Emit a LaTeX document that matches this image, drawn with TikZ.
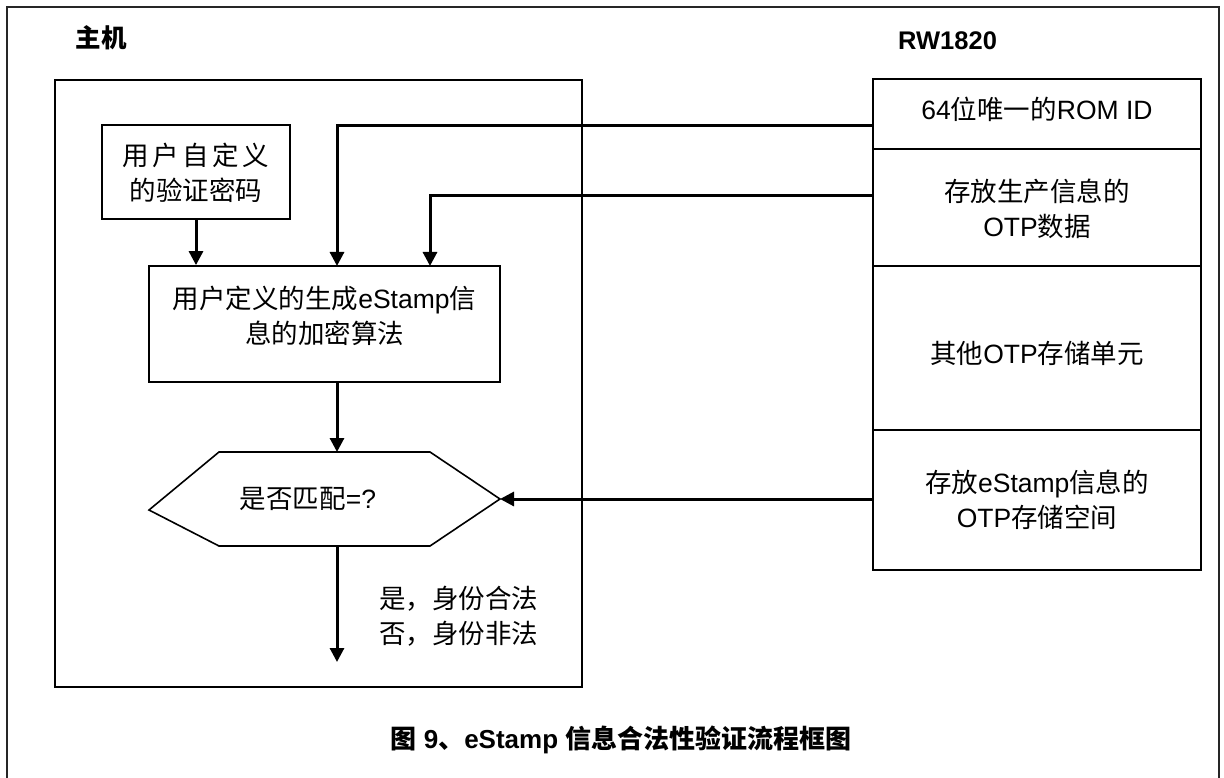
\documentclass[tikz,border=0pt]{standalone}
\usepackage{fontspec}
\setmainfont{Liberation Sans}
\newfontfamily\cjk{Noto Sans CJK SC}
\usetikzlibrary{arrows.meta}
\newcommand\zh[1]{{\cjk #1}}
\begin{document}
\begin{tikzpicture}[x=1pt,y=-1pt,
  box/.style={draw, line width=1.8pt, inner sep=0pt},
  lbl/.style={font=\fontsize{26.5}{35}\selectfont, align=center, inner sep=0pt},
  head/.style={font=\bfseries\fontsize{25.5}{30}\selectfont, inner sep=0pt},
  conn/.style={line width=3pt, -{Triangle[length=14pt,width=14pt]}},
  hexline/.style={line width=1.6pt, line join=miter}]
\useasboundingbox (0,0) rectangle (1224,778);
% outer frame (bottom edge outside the picture)
\draw[line width=1.6pt, black!85] (7,800) -- (7,7) -- (1219,7) -- (1219,800);
% headers
\node[head] (hostlbl) at (101,38) {\zh{主机}};
\node[head, anchor=west] (rwlbl) at (898,41) {RW1820};
% host box
\draw[box] (55,80) rectangle (582,687);
\node[box, minimum width=188pt, minimum height=94pt] (pwd) at (196,172) {};
\node[lbl] (pwdtxt) at (196,172.5) {\zh{用\hspace{3.5pt}户\hspace{3.5pt}自\hspace{3.5pt}定\hspace{3.5pt}义}\\\zh{的验证密码}};
\node[box, minimum width=351pt, minimum height=116pt] (algo) at (324.5,324) {};
\node[lbl] (algotxt) at (324.5,316) {\zh{用户定义的生成}eStamp\zh{信}\\\zh{息的加密算法}};
% hexagon decision
\coordinate (hexR) at (500,499);
\coordinate (hexT) at (337,452);
\coordinate (hexB) at (337,546);
\draw[hexline] (219,452) -- (430,452) -- (hexR) -- (430,546) -- (219,546) -- (149,510) -- cycle;
\node[lbl] (q) at (308,499) {\zh{是否匹配}=?};
\node[lbl, anchor=west, align=left] (res) at (379,616) {\zh{是，身份合法}\\\zh{否，身份非法}};
% RW1820 column
\node[box, minimum width=328pt, minimum height=70pt] (rom) at (1037,114) {};
\node[lbl] (romtxt) at (1037,109) {64\zh{位唯一的}ROM ID};
\node[box, minimum width=328pt, minimum height=117pt] (otp) at (1037,207.5) {};
\node[lbl] (otptxt) at (1037,208.5) {\zh{存放生产信息的}\\OTP\zh{数据}};
\node[box, minimum width=328pt, minimum height=164pt] (other) at (1037,348) {};
\node[lbl] (othertxt) at (1037,353) {\zh{其他}OTP\zh{存储单元}};
\node[box, minimum width=328pt, minimum height=140pt] (est) at (1037,500) {};
\node[lbl] (esttxt) at (1037,499.5) {\zh{存放}eStamp\zh{信息的}\\OTP\zh{存储空间}};
% connectors
\coordinate (romout) at (873,126);
\coordinate (algoin1) at (337,266);
\coordinate (otpout) at (873,196);
\coordinate (algoin2) at (430,266);
\coordinate (algoout) at (337,382);
\coordinate (estout) at (873,499);
\coordinate (resend) at (337,662);
\draw[conn] (pwd.south) -- (pwd.south |- algo.north);
\draw[conn] (romout) -| (algoin1);
\draw[conn] (otpout) -| (algoin2);
\draw[conn] (algoout) -- (hexT);
\draw[conn] (estout) -- (hexR);
\draw[conn] (hexB) -- (resend);
% caption
\node[head, font=\bfseries\fontsize{26}{30}\selectfont] (cap) at (621,740) {\zh{图} 9\zh{、}eStamp \zh{信息合法性验证流程框图}};
\end{tikzpicture}
\end{document}
